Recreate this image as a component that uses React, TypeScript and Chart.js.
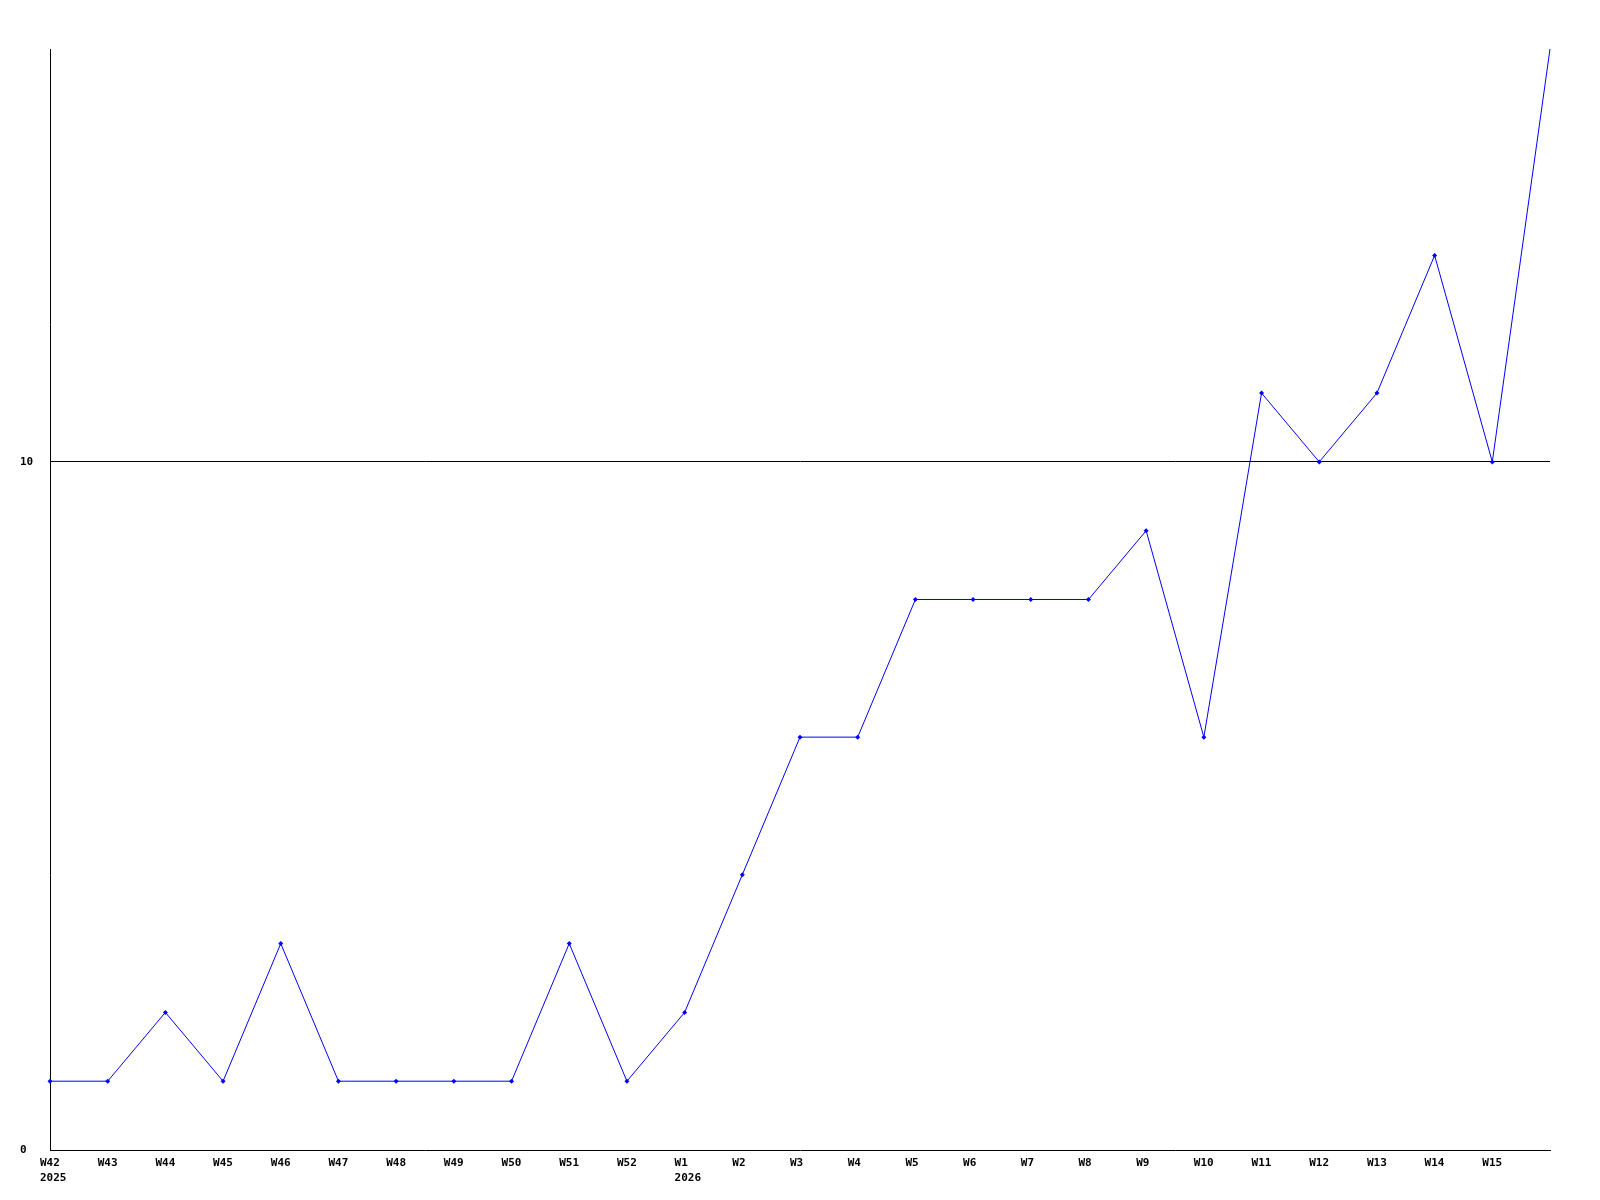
import React, { useEffect, useRef } from "react";
import { Chart, registerables } from "chart.js";

Chart.register(...registerables);

const categories: (string | string[])[] = [
  ["W42", "2025"], "W43", "W44", "W45", "W46", "W47", "W48", "W49", "W50", "W51", "W52",
  ["W1", "2026"], "W2", "W3", "W4", "W5", "W6", "W7", "W8", "W9", "W10", "W11", "W12", "W13", "W14", "W15", "W16",
];

const values: number[] = [
  1, 1, 2, 1, 3, 1, 1, 1, 1, 3, 1,
  2, 4, 6, 6, 8, 8, 8, 8, 9, 6, 11, 10, 11, 13, 10, 16,
];

const yTicks: number[] = [0, 10];

const FONT = "DejaVu Sans Mono";

const xLabelPlugin = {
  id: "xLabelPlugin",
  afterDraw(chart: any) {
    const scale = chart.scales.x;
    const ctx = chart.ctx;
    ctx.save();
    ctx.font = `bold 11px "${FONT}"`;
    ctx.fillStyle = "#000";
    ctx.textAlign = "left";
    ctx.textBaseline = "middle";
    const n = categories.length;
    for (let i = 0; i < n - 1; i++) {
      const lab = categories[i];
      const lines = Array.isArray(lab) ? lab : [lab];
      const x = scale.getPixelForValue(i) - 10;
      lines.forEach((line, j) => {
        ctx.fillText(line, x, chart.chartArea.bottom + 13 + j * 15);
      });
    }
    ctx.restore();
  },
};

export default function App() {
  const ref = useRef<HTMLCanvasElement | null>(null);
  useEffect(() => {
    document.body.style.margin = "0";
    if (!ref.current) return;
    const n = values.length;
    const chart = new Chart(ref.current, {
      type: "line",
      data: {
        labels: categories,
        datasets: [
          {
            data: values,
            borderColor: "#0000ff",
            backgroundColor: "#0000ff",
            borderWidth: 1,
            pointStyle: "rectRot",
            pointRadius: values.map((_, i) => (i === n - 1 ? 0 : 2.5)),
            pointBorderWidth: 0,
            tension: 0,
            fill: false,
          },
        ],
      },
      options: {
        animation: false,
        responsive: false,
        maintainAspectRatio: false,
        layout: { padding: { left: 20, top: 49, right: 50, bottom: 0 } },
        plugins: {
          legend: { display: false },
          tooltip: { enabled: false },
        },
        scales: {
          x: {
            type: "category",
            offset: false,
            grid: { drawOnChartArea: false, drawTicks: false },
            border: { display: true, color: "#000", width: 1 },
            ticks: { display: false },
            afterFit: (s: any) => {
              s.height = 50;
            },
          },
          y: {
            min: 0,
            max: 16,
            afterBuildTicks: (s: any) => {
              s.ticks = yTicks.map((v) => ({ value: v }));
            },
            afterFit: (s: any) => {
              s.width = 30;
            },
            grid: {
              drawTicks: false,
              color: (c: any) => (c.tick && c.tick.value === 10 ? "#000" : "rgba(0,0,0,0)"),
              lineWidth: 1,
            },
            border: { display: true, color: "#000", width: 1 },
            ticks: {
              crossAlign: "far",
              padding: 0,
              color: "#000",
              font: { family: FONT, size: 11, weight: "bold" },
            },
          },
        },
      },
      plugins: [xLabelPlugin],
    });
    return () => chart.destroy();
  }, []);
  return (
    <div style={{ position: "absolute", left: 0, top: 0, width: 1600, height: 1200, background: "#fff" }}>
      <canvas ref={ref} width={1600} height={1200} style={{ width: 1600, height: 1200 }} />
    </div>
  );
}
